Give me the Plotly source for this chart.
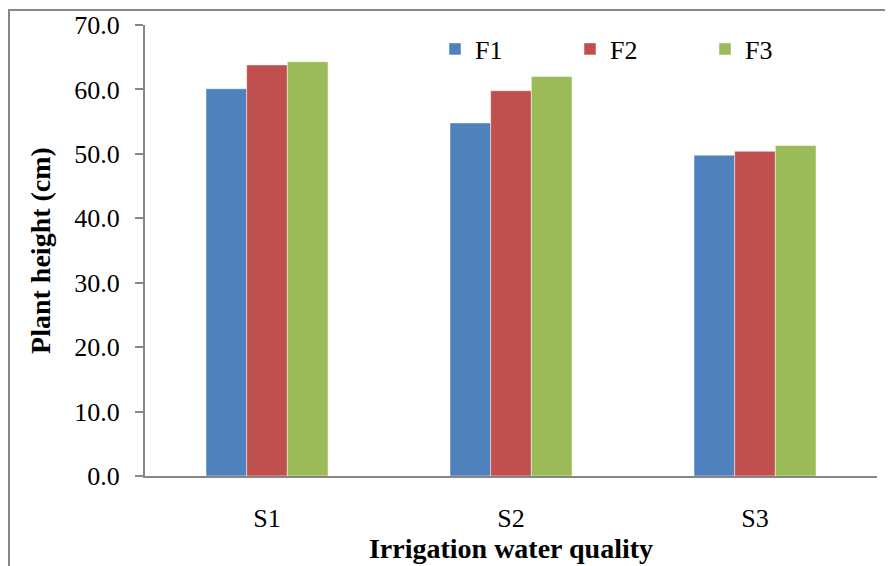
import plotly.graph_objects as go

categories = ["S1", "S2", "S3"]
series_names = ["F1", "F2", "F3"]
f1_values = [60.1, 54.8, 49.8]
f2_values = [63.8, 59.8, 50.4]
f3_values = [64.3, 62.0, 51.3]
y_tick_values = [0, 10, 20, 30, 40, 50, 60, 70]

colors = ["#4F81BD", "#C0504D", "#9BBB59"]
FONT = "Liberation Serif, Times New Roman, serif"

# the page body has an 8px margin, so the figure is drawn 8px in from the corner
OFF = 8
W, H = 893 - OFF, 566 - OFF
L, R, T, B = 137, 16, 17, 90
pw, ph = W - L - R, H - T - B

def px_x(p):
    return (p - OFF - L) / pw

def px_y(p):
    return 1 - (p - OFF - T) / ph

fig = go.Figure()
for name, vals, col in zip(series_names, [f1_values, f2_values, f3_values], colors):
    fig.add_trace(go.Bar(
        x=categories, y=vals, name=name,
        marker=dict(color=col, line=dict(color="rgba(255,255,255,0.6)", width=0.8)),
    ))

fig.update_layout(
    width=W, height=H,
    margin=dict(l=L, r=R, t=T, b=B),
    paper_bgcolor="white", plot_bgcolor="white",
    font=dict(family=FONT, size=26, color="black"),
    barmode="group", bargap=0.5, bargroupgap=0,
    legend=dict(
        orientation="h", x=px_x(435), y=px_y(49), xanchor="left", yanchor="middle",
        font=dict(family=FONT, size=26, color="black"),
        entrywidth=90, entrywidthmode="pixels",
        bgcolor="rgba(0,0,0,0)", borderwidth=0,
    ),
    xaxis=dict(
        showline=True, linecolor="#868686", linewidth=2,
        ticks="", showgrid=False, ticklabelstandoff=18, automargin=False,
        tickfont=dict(family=FONT, size=26),
        title=dict(text="<b>Irrigation water quality</b>", font=dict(family=FONT, size=28), standoff=6),
    ),
    yaxis=dict(
        range=[0, 70], tickvals=y_tick_values, tickformat=".1f",
        showline=True, linecolor="#868686", linewidth=2,
        ticks="outside", ticklen=8, tickcolor="#868686", tickwidth=2,
        showgrid=False, zeroline=False, ticklabelstandoff=10, automargin=False,
        tickfont=dict(family=FONT, size=26),
        title=dict(text="<b>Plant height (cm)</b>", font=dict(family=FONT, size=28), standoff=15),
    ),
    shapes=[dict(
        type="rect", xref="paper", yref="paper",
        x0=px_x(9), x1=px_x(905), y0=px_y(10), y1=px_y(580),
        line=dict(color="#868686", width=2), fillcolor="rgba(0,0,0,0)", layer="below",
    )],
)

fig.write_html("out.html")
